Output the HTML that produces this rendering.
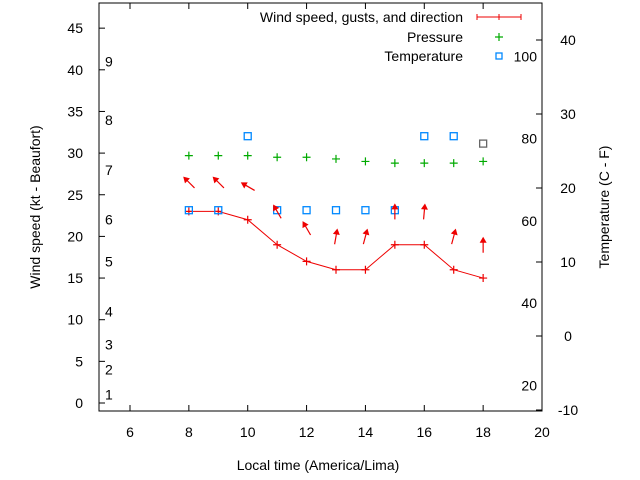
<!DOCTYPE html>
<html><head><meta charset="utf-8"><style>
body{margin:0;background:#fff}
svg{display:block;font-family:"Liberation Sans",sans-serif;font-size:14px}
</style></head><body>
<svg id="c" width="640" height="480" xmlns="http://www.w3.org/2000/svg"></svg>
<script>
const hours=[8,9,10,11,12,13,14,15,16,17,18];
const windSpeed=[23,23,22,19,17,16,16,19,19,16,15];
const gusts=[26.5,26.5,26,23,21,20,20,23,23,20,19];
const windDir=[315,315,300,330,330,10,15,0,5,15,0];
const pressure=[29.7,29.7,29.7,29.5,29.5,29.3,29.0,28.8,28.8,28.8,29.0];
const tempC=[17,17,27,17,17,17,17,17,27,27,26];
const xTicks=[6,8,10,12,14,16,18,20];
const yTicks=[0,5,10,15,20,25,30,35,40,45];
const y2Ticks=[-10,0,10,20,30,40];
const beaufort=[[1,1],[2,4],[3,7],[4,11],[5,17],[6,22],[7,28],[8,34],[9,41]];
const fahr=[20,40,60,80,100];

const L=99,R=542,T=3,B=411;
const X=v=>130+(v-6)*(412/14);
const Y=v=>403-v*8.33;
const Y2=c=>410-(c+10)*7.4;
const svg=document.getElementById('c');
const NS='http://www.w3.org/2000/svg';
function mk(tag,a,p){const e=document.createElementNS(NS,tag);for(const k in a)e.setAttribute(k,a[k]);(p||svg).appendChild(e);return e;}
function txt(s,x,y,anchor,name){const t=mk('text',{x:x,y:y,'text-anchor':anchor||'middle'});t.textContent=s;


return t;}

const frame=mk('rect',{x:L,y:T,width:R-L,height:B-T,fill:'none',stroke:'#000'});


xTicks.forEach(v=>{mk('line',{x1:X(v),x2:X(v),y1:B,y2:B-6,stroke:'#000'});mk('line',{x1:X(v),x2:X(v),y1:T,y2:T+6,stroke:'#000'});
txt(String(v),X(v),437,'middle','x-tick-label');});
yTicks.forEach(v=>{mk('line',{x1:L,x2:L+6,y1:Y(v),y2:Y(v),stroke:'#000'});txt(String(v),83,Y(v)+5,'end','y-tick-label');});
y2Ticks.forEach(v=>{mk('line',{x1:R,x2:R-6,y1:Y2(v),y2:Y2(v),stroke:'#000'});txt(String(v),568,Y2(v)+5,'middle','y2-tick-label');});
beaufort.forEach(b=>txt(String(b[0]),105,Y(b[1])+5,'start','beaufort-label'));
fahr.forEach(f=>txt(String(f),537,Y2((f-32)*5/9)+5,'end','fahrenheit-label'));

txt('Local time (America/Lima)',318,470,'middle','x-axis-title');
const yt=txt('Wind speed (kt - Beaufort)',0,0,'middle','y-axis-title');yt.setAttribute('transform','translate(40,207) rotate(-90)');
const y2t=txt('Temperature (C - F)',0,0,'middle','y2-axis-title');y2t.setAttribute('transform','translate(609,207) rotate(-90)');

const pts=hours.map((h,i)=>X(h)+','+Y(windSpeed[i])).join(' ');
const wl=mk('polyline',{points:pts,fill:'none',stroke:'#e00',"stroke-width":1});


function plus(x,y,c,n){const g=mk('path',{d:`M${x-4} ${y}h8M${x} ${y-4}v8`,stroke:c,'stroke-width':1.2});

}
hours.forEach((h,i)=>plus(X(h),Y(windSpeed[i]),'#e00','wind-point'));
hours.forEach((h,i)=>plus(X(h),Y(pressure[i]),'#0a0','pressure-point'));
hours.forEach((h,i)=>{const r=mk('rect',{x:X(h)-3.5,y:Y2(tempC[i])-3.5,width:7,height:7,fill:'none',stroke:i==10?'#666':'#08f','stroke-width':1.3});

});
hours.forEach((h,i)=>{const g=mk('g',{transform:`translate(${X(h)},${Y(gusts[i])}) rotate(${windDir[i]})`});


mk('line',{x1:0,y1:8,x2:0,y2:-3,stroke:'#e00','stroke-width':1.2},g);
mk('path',{d:'M-3.5 -2 L0 -8 L3.5 -2 Z',fill:'#e00'},g);});

txt('Wind speed, gusts, and direction',463,22,'end','legend-wind-label');
const lw=mk('path',{d:'M477 17h44M477 14v6M521 14v6M499 14v6',stroke:'#e00'});


txt('Pressure',463,42,'end','legend-pressure-label');
plus(499,37,'#0a0','legend-pressure-sample');
txt('Temperature',463,61,'end','legend-temperature-label');
const lt=mk('rect',{x:496,y:53,width:6,height:6,fill:'none',stroke:'#08f','stroke-width':1.3});


</script>
</body></html>
